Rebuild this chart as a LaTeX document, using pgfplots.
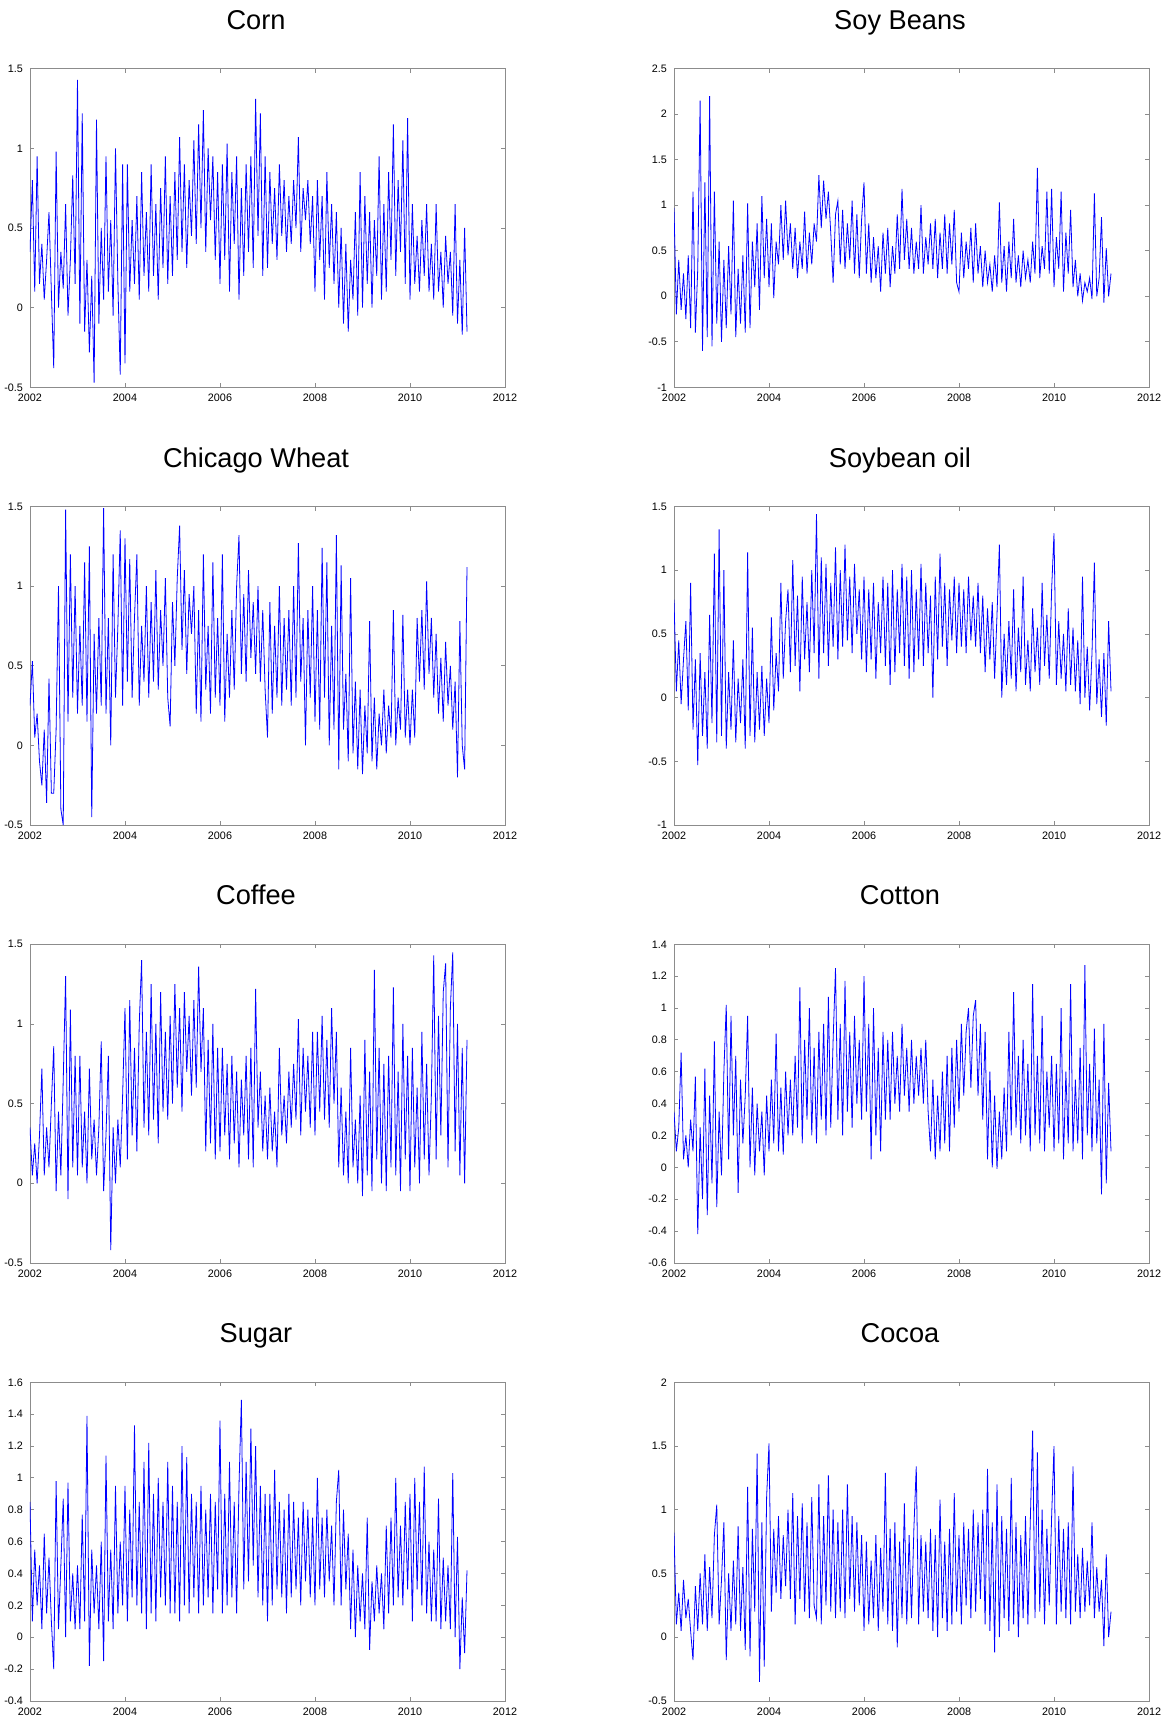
\documentclass[border=0pt]{standalone}
\usepackage{fontspec}
\setmainfont{Liberation Sans}
\usepackage{pgfplots}
\usepackage{pgfplotstable}
\pgfplotsset{compat=1.18}

\definecolor{axgray}{RGB}{140,140,140}

% one row per observation, 20 observations per year from 2002
\pgfplotstableread[row sep=\\]{y\\
0.35\\0.80\\0.10\\0.95\\0.15\\0.40\\0.05\\0.30\\0.60\\0.10\\
-0.38\\0.98\\0.00\\0.35\\0.12\\0.65\\-0.05\\0.30\\0.83\\0.15\\
1.43\\-0.10\\1.22\\-0.15\\0.30\\-0.28\\0.20\\-0.47\\1.18\\-0.10\\
0.50\\0.05\\0.95\\0.10\\0.55\\-0.05\\1.00\\0.15\\-0.42\\0.90\\
-0.35\\0.90\\0.10\\0.55\\0.15\\0.70\\0.05\\0.85\\0.20\\0.60\\
0.10\\0.90\\0.20\\0.65\\0.05\\0.75\\0.25\\0.95\\0.15\\0.70\\
0.20\\0.85\\0.30\\1.07\\0.35\\0.90\\0.25\\0.80\\0.45\\1.05\\
0.40\\1.15\\0.50\\1.24\\0.35\\1.00\\0.55\\0.95\\0.30\\0.85\\
0.15\\0.90\\0.30\\1.03\\0.10\\0.85\\0.40\\0.95\\0.05\\0.75\\
0.20\\0.90\\0.35\\0.95\\0.25\\1.31\\0.45\\1.22\\0.20\\0.95\\
0.25\\0.85\\0.40\\0.75\\0.30\\0.90\\0.45\\0.80\\0.35\\0.70\\
0.40\\0.80\\0.50\\1.07\\0.35\\0.75\\0.55\\0.80\\0.40\\0.70\\
0.10\\0.80\\0.30\\0.70\\0.05\\0.85\\0.25\\0.65\\0.15\\0.60\\
0.00\\0.50\\-0.10\\0.40\\-0.15\\0.30\\0.05\\0.60\\-0.05\\0.85\\
0.00\\0.70\\0.15\\0.60\\0.00\\0.55\\0.20\\0.95\\0.05\\0.65\\
0.10\\0.85\\0.30\\1.15\\0.20\\0.80\\0.35\\1.05\\0.15\\1.19\\
0.05\\0.65\\0.15\\0.45\\0.10\\0.55\\0.20\\0.65\\0.10\\0.40\\
0.05\\0.65\\0.10\\0.35\\0.00\\0.45\\0.15\\0.35\\-0.05\\0.65\\
-0.10\\0.30\\-0.17\\0.50\\-0.15\\
}\corn

\pgfplotstableread[row sep=\\]{y\\
0.97\\-0.20\\0.40\\-0.15\\0.25\\-0.25\\0.45\\-0.35\\1.15\\-0.40\\
0.30\\2.15\\-0.60\\1.25\\-0.45\\2.20\\-0.55\\1.15\\-0.30\\0.60\\
-0.50\\0.40\\-0.35\\0.55\\-0.20\\1.05\\-0.45\\0.30\\-0.30\\0.45\\
-0.40\\1.02\\-0.35\\0.60\\0.10\\0.80\\-0.15\\1.10\\0.20\\0.85\\
0.10\\0.80\\-0.02\\0.60\\0.35\\1.00\\0.40\\1.05\\0.45\\0.80\\
0.30\\0.75\\0.20\\0.60\\0.30\\0.93\\0.25\\0.70\\0.35\\0.80\\
0.60\\1.33\\0.75\\1.27\\0.85\\1.15\\0.70\\0.15\\0.90\\1.05\\
0.35\\0.95\\0.30\\0.80\\0.40\\1.05\\0.25\\0.90\\0.20\\0.85\\
1.25\\0.25\\0.80\\0.15\\0.65\\0.20\\0.55\\0.05\\0.70\\0.25\\
0.75\\0.10\\0.55\\0.25\\0.90\\0.30\\1.18\\0.40\\0.85\\0.30\\
0.75\\0.25\\0.60\\0.30\\1.00\\0.25\\0.65\\0.35\\0.80\\0.30\\
0.85\\0.20\\0.70\\0.30\\0.90\\0.25\\0.80\\0.35\\0.95\\0.15\\
0.05\\0.70\\0.20\\0.60\\0.30\\0.75\\0.15\\0.80\\0.25\\0.55\\
0.10\\0.50\\0.15\\0.35\\0.05\\0.45\\0.10\\1.03\\0.15\\0.55\\
0.05\\0.60\\0.20\\0.85\\0.15\\0.45\\0.10\\0.50\\0.20\\0.40\\
0.15\\0.60\\0.25\\1.41\\0.20\\0.55\\0.30\\1.15\\0.25\\1.18\\
0.10\\0.65\\0.30\\1.15\\0.05\\0.70\\0.25\\0.95\\0.10\\0.40\\
0.00\\0.25\\-0.05\\0.15\\0.05\\0.20\\-0.03\\1.13\\0.00\\0.20\\
0.87\\-0.07\\0.53\\0.00\\0.25\\
}\soybeans

\pgfplotstableread[row sep=\\]{y\\
0.25\\0.53\\0.05\\0.20\\-0.10\\-0.25\\0.10\\-0.36\\0.42\\-0.30\\
-0.30\\0.10\\1.00\\-0.40\\-0.50\\1.48\\0.15\\1.20\\0.30\\1.00\\
0.20\\0.75\\0.25\\1.15\\0.15\\1.25\\-0.45\\0.70\\0.20\\0.80\\
0.25\\1.49\\0.20\\0.80\\0.00\\1.20\\0.30\\0.75\\1.35\\0.25\\
1.30\\0.40\\1.17\\0.30\\0.80\\1.20\\0.25\\0.75\\0.40\\1.00\\
0.30\\0.90\\0.40\\1.10\\0.35\\0.85\\0.50\\1.05\\0.30\\0.12\\
0.90\\0.50\\1.05\\1.38\\0.60\\1.10\\0.45\\0.95\\0.70\\1.00\\
0.20\\0.85\\0.15\\1.20\\0.35\\0.75\\0.20\\1.15\\0.30\\0.80\\
0.25\\1.20\\0.15\\0.70\\0.30\\0.85\\0.35\\1.00\\1.32\\0.45\\
0.95\\0.40\\1.10\\0.55\\0.90\\0.45\\1.00\\0.40\\0.85\\0.35\\
0.05\\0.90\\0.20\\0.75\\0.30\\1.00\\0.25\\0.80\\0.35\\0.85\\
0.25\\1.00\\0.30\\1.27\\0.40\\0.80\\0.00\\0.85\\0.30\\1.00\\
0.15\\0.85\\0.10\\1.24\\0.30\\1.15\\0.00\\0.75\\0.10\\1.32\\
-0.15\\1.13\\0.10\\0.45\\-0.10\\1.05\\-0.05\\0.40\\-0.15\\0.35\\
-0.18\\0.25\\-0.05\\0.78\\-0.10\\0.30\\-0.15\\0.20\\0.00\\0.35\\
-0.05\\0.25\\0.05\\0.85\\0.00\\0.30\\0.10\\0.82\\0.05\\0.35\\
0.00\\0.35\\0.05\\0.80\\0.40\\0.85\\0.35\\1.03\\0.45\\0.80\\
0.30\\0.70\\0.20\\0.55\\0.15\\0.65\\0.25\\0.50\\0.10\\0.40\\
-0.20\\0.78\\0.00\\-0.15\\1.12\\
}\wheat

\pgfplotstableread[row sep=\\]{y\\
0.77\\0.05\\0.45\\-0.05\\0.30\\0.60\\-0.10\\0.90\\-0.25\\0.30\\
-0.53\\0.35\\-0.30\\0.20\\-0.40\\0.65\\-0.20\\1.13\\-0.35\\1.32\\
-0.30\\1.00\\-0.40\\0.20\\-0.25\\0.45\\-0.35\\0.15\\-0.20\\0.30\\
-0.40\\1.14\\-0.30\\0.55\\-0.35\\0.20\\-0.25\\0.25\\-0.30\\0.15\\
-0.20\\0.63\\-0.10\\0.35\\0.05\\0.90\\0.15\\0.60\\0.85\\0.20\\
1.08\\0.25\\0.80\\0.05\\0.95\\0.30\\0.75\\0.20\\1.00\\0.35\\
1.44\\0.15\\1.10\\0.35\\1.05\\0.25\\0.90\\0.40\\1.18\\0.30\\
1.00\\0.40\\1.20\\0.45\\0.95\\0.35\\1.05\\0.50\\0.85\\0.30\\
0.95\\0.20\\0.85\\0.30\\0.90\\0.15\\0.75\\0.35\\0.95\\0.25\\
0.90\\0.10\\1.00\\0.20\\0.85\\0.35\\1.05\\0.25\\0.95\\0.15\\
1.00\\0.20\\0.85\\0.30\\1.05\\0.25\\0.90\\0.35\\0.80\\0.00\\
0.95\\0.30\\1.13\\0.40\\0.90\\0.25\\0.85\\0.45\\0.95\\0.35\\
0.90\\0.40\\0.85\\0.35\\0.95\\0.45\\0.80\\0.40\\0.90\\0.35\\
0.80\\0.20\\0.70\\0.30\\0.75\\0.15\\0.65\\1.20\\0.00\\0.50\\
0.10\\0.60\\0.15\\0.85\\0.05\\0.55\\0.20\\0.95\\0.10\\0.45\\
0.05\\0.70\\0.20\\0.55\\0.10\\0.90\\0.25\\0.65\\0.15\\0.85\\
1.29\\0.10\\0.60\\0.15\\0.50\\0.05\\0.70\\0.10\\0.55\\0.05\\
0.45\\-0.05\\0.95\\0.00\\0.40\\-0.10\\0.35\\1.06\\-0.05\\0.30\\
-0.15\\0.35\\-0.22\\0.60\\0.05\\
}\soyoil

\pgfplotstableread[row sep=\\]{y\\
0.35\\0.05\\0.25\\0.00\\0.30\\0.72\\0.05\\0.35\\0.10\\0.50\\
0.86\\-0.05\\0.45\\0.05\\0.65\\1.30\\-0.10\\1.09\\0.10\\0.80\\
0.05\\0.80\\0.10\\0.45\\0.00\\0.72\\0.15\\0.40\\0.05\\0.35\\
0.89\\-0.05\\0.30\\0.80\\-0.42\\0.35\\0.00\\0.40\\0.10\\0.55\\
1.10\\0.15\\1.15\\0.30\\0.85\\0.20\\1.00\\1.40\\0.35\\0.95\\
0.30\\1.25\\0.40\\1.00\\0.25\\1.20\\0.45\\0.95\\0.40\\1.05\\
0.50\\1.25\\0.60\\1.10\\0.45\\1.20\\0.70\\1.05\\0.55\\1.15\\
0.60\\1.36\\0.70\\1.10\\0.20\\0.90\\0.25\\1.00\\0.15\\0.85\\
0.20\\0.85\\0.30\\0.75\\0.15\\0.80\\0.25\\0.70\\0.10\\0.65\\
0.30\\0.80\\0.15\\0.85\\0.10\\1.22\\0.35\\0.70\\0.20\\0.55\\
0.15\\0.60\\0.20\\0.45\\0.10\\0.85\\0.30\\0.55\\0.25\\0.70\\
0.35\\0.75\\0.40\\1.03\\0.30\\0.85\\0.45\\0.80\\0.35\\0.95\\
0.30\\0.95\\0.45\\1.05\\0.40\\0.90\\0.35\\1.10\\0.50\\0.95\\
0.10\\0.60\\0.05\\0.45\\0.00\\0.85\\0.10\\0.40\\0.00\\0.55\\
-0.08\\0.90\\0.05\\0.70\\-0.05\\1.34\\0.15\\0.85\\0.00\\0.75\\
-0.05\\0.80\\0.10\\1.23\\0.05\\0.70\\-0.05\\1.00\\0.15\\0.80\\
-0.05\\0.85\\0.10\\0.60\\0.00\\0.95\\0.15\\0.75\\0.05\\0.55\\
1.43\\0.15\\1.05\\0.30\\1.20\\1.38\\0.10\\1.10\\1.45\\0.20\\
1.00\\0.05\\0.85\\0.00\\0.90\\
}\coffee

\pgfplotstableread[row sep=\\]{y\\
0.35\\0.10\\0.25\\0.72\\0.05\\0.20\\0.00\\0.30\\0.10\\0.57\\
-0.42\\0.25\\-0.20\\0.62\\-0.30\\0.45\\-0.10\\0.79\\-0.25\\0.35\\
-0.05\\0.60\\1.02\\0.05\\0.95\\0.20\\0.70\\-0.16\\0.55\\0.15\\
0.45\\0.95\\0.00\\0.50\\-0.05\\0.40\\0.10\\0.35\\-0.05\\0.45\\
0.10\\0.55\\0.15\\0.84\\0.10\\0.50\\0.08\\0.60\\0.20\\0.55\\
0.20\\0.70\\0.25\\1.13\\0.15\\0.80\\0.30\\1.00\\0.20\\0.75\\
0.15\\0.85\\0.30\\0.90\\0.20\\1.07\\0.25\\0.80\\1.25\\0.30\\
0.90\\0.20\\1.17\\0.35\\0.85\\0.25\\0.95\\0.40\\0.80\\0.30\\
1.20\\0.35\\0.90\\0.05\\1.00\\0.20\\0.75\\0.10\\0.85\\0.30\\
0.80\\0.30\\0.85\\0.40\\0.70\\0.35\\0.90\\0.45\\0.75\\0.35\\
0.80\\0.40\\0.70\\0.45\\0.75\\0.40\\0.80\\0.35\\0.10\\0.55\\
0.05\\0.45\\0.10\\0.60\\0.15\\0.70\\0.10\\0.75\\0.25\\0.80\\
0.35\\0.90\\0.45\\0.85\\1.00\\0.50\\0.95\\1.05\\0.45\\0.90\\
0.30\\0.85\\0.05\\0.60\\0.00\\0.45\\-0.01\\0.35\\0.05\\0.50\\
0.10\\0.85\\0.20\\1.10\\0.25\\0.70\\0.15\\0.80\\0.20\\0.65\\
0.10\\1.15\\0.20\\0.70\\0.15\\0.95\\0.10\\0.60\\0.25\\0.70\\
0.10\\0.65\\0.15\\1.00\\0.05\\0.60\\0.15\\1.15\\0.10\\0.55\\
0.15\\0.75\\0.05\\1.27\\0.20\\0.65\\0.10\\0.87\\0.15\\0.55\\
-0.17\\0.90\\-0.10\\0.53\\0.10\\
}\cotton

\pgfplotstableread[row sep=\\]{y\\
0.85\\0.10\\0.55\\0.20\\0.45\\0.05\\0.65\\0.15\\0.50\\0.10\\
-0.20\\0.98\\0.05\\0.45\\0.87\\0.00\\0.97\\0.10\\0.40\\0.05\\
0.45\\0.05\\0.77\\0.10\\1.39\\-0.18\\0.55\\0.15\\0.45\\0.05\\
0.60\\-0.15\\1.14\\0.10\\0.55\\0.05\\0.95\\0.15\\0.60\\0.20\\
0.95\\0.10\\0.80\\0.25\\1.33\\0.20\\0.85\\0.15\\1.10\\0.05\\
1.22\\0.15\\0.90\\0.10\\1.00\\0.25\\0.85\\0.20\\1.10\\0.15\\
0.95\\0.15\\0.85\\0.10\\1.20\\0.20\\1.13\\0.15\\0.90\\0.25\\
0.85\\0.15\\0.95\\0.20\\0.80\\0.25\\0.90\\0.15\\0.85\\0.30\\
1.36\\0.15\\0.90\\0.20\\1.10\\0.25\\0.85\\0.15\\0.95\\1.49\\
0.30\\1.10\\0.35\\1.31\\0.45\\1.20\\0.25\\0.95\\0.20\\0.90\\
0.10\\0.90\\0.20\\1.05\\0.30\\0.85\\0.25\\0.80\\0.15\\0.90\\
0.25\\0.85\\0.30\\0.75\\0.20\\0.85\\0.35\\0.80\\0.25\\0.75\\
0.20\\1.00\\0.30\\0.75\\0.25\\0.80\\0.35\\0.70\\0.20\\0.85\\
1.05\\0.20\\0.80\\0.30\\0.65\\0.05\\0.55\\0.00\\0.45\\0.10\\
0.40\\0.05\\0.75\\-0.08\\0.35\\0.10\\0.45\\0.15\\0.40\\0.05\\
0.70\\0.15\\0.75\\0.20\\1.00\\0.25\\0.70\\0.20\\0.85\\0.30\\
0.90\\0.10\\1.00\\0.30\\0.85\\0.20\\1.07\\0.15\\0.60\\0.10\\
0.55\\0.10\\0.87\\0.05\\0.50\\0.10\\0.45\\0.05\\1.03\\0.00\\
0.63\\-0.20\\0.25\\-0.10\\0.42\\
}\sugar

\pgfplotstableread[row sep=\\]{y\\
0.82\\0.10\\0.35\\0.05\\0.45\\0.15\\0.30\\0.05\\-0.18\\0.40\\
0.05\\0.50\\0.10\\0.65\\0.05\\0.55\\0.15\\0.80\\1.04\\0.10\\
0.45\\0.90\\-0.18\\0.50\\0.05\\0.60\\0.10\\0.87\\0.05\\0.55\\
-0.10\\1.18\\-0.15\\0.85\\0.20\\1.44\\-0.35\\0.90\\-0.23\\1.10\\
1.52\\0.20\\0.85\\0.35\\0.95\\0.30\\0.80\\0.40\\1.00\\0.30\\
1.13\\0.10\\0.95\\0.30\\1.05\\0.20\\0.90\\0.15\\1.10\\0.25\\
0.15\\1.20\\0.10\\0.95\\0.25\\1.27\\0.20\\1.00\\0.15\\0.90\\
0.20\\1.00\\0.15\\1.20\\0.30\\0.95\\0.20\\0.90\\0.25\\0.80\\
0.05\\0.75\\0.10\\0.60\\0.15\\0.80\\0.05\\0.70\\0.20\\1.29\\
0.10\\0.85\\0.05\\0.90\\-0.08\\0.75\\0.15\\1.05\\0.10\\0.80\\
0.15\\0.85\\1.34\\0.10\\0.80\\0.20\\0.75\\0.15\\0.85\\0.05\\
0.80\\0.00\\1.08\\0.15\\0.75\\0.05\\0.85\\0.10\\1.13\\0.20\\
0.80\\0.10\\0.90\\0.25\\0.85\\0.15\\1.00\\0.20\\0.90\\0.30\\
1.00\\0.10\\1.32\\0.05\\0.90\\-0.12\\1.20\\0.00\\0.95\\0.15\\
0.85\\0.05\\1.25\\0.10\\0.90\\0.00\\0.80\\0.15\\0.95\\0.10\\
0.90\\1.62\\0.15\\1.45\\0.20\\1.00\\0.10\\0.85\\0.25\\0.95\\
1.50\\0.10\\0.95\\0.20\\0.85\\0.15\\0.90\\0.10\\1.34\\0.20\\
0.65\\0.15\\0.70\\0.20\\0.60\\0.25\\0.90\\0.15\\0.55\\0.20\\
0.45\\-0.07\\0.65\\0.00\\0.20\\
}\cocoa

\pgfplotsset{
  panel/.style={
    scale only axis,
    width=237.5pt, height=159.3pt,
    anchor=north west,
    xmin=2002, xmax=2012,
    xtick={2002,2004,2006,2008,2010,2012},
    scaled ticks=false,
    axis line style={draw=axgray},
    tick style={draw=axgray, thin},
    major tick length=2pt,
    tick label style={font=\fontsize{5.4}{6}\selectfont},
    /pgf/number format/assume math mode=true,
    /pgf/number format/1000 sep={},
    title style={at={(0.4758,1)}, anchor=base, yshift=13.7pt,
      font=\fontsize{13.6}{16}\selectfont},
  },
  series/.style={blue, line width=0.4pt},
}

\begin{document}
\begin{tikzpicture}
\useasboundingbox (0,0) rectangle (584.5pt,-858.5pt);

\begin{axis}[panel, at={(15pt,-34.35pt)}, title={Corn},
  ymin=-0.5, ymax=1.5, ytick={-0.5,0,0.5,1,1.5}]
\addplot[series] table[x expr=2002+\coordindex/20, y=y] {\corn};
\end{axis}

\begin{axis}[panel, at={(337pt,-34.35pt)}, title={Soy Beans},
  ymin=-1, ymax=2.5, ytick={-1,-0.5,0,0.5,1,1.5,2,2.5}]
\addplot[series] table[x expr=2002+\coordindex/20, y=y] {\soybeans};
\end{axis}

\begin{axis}[panel, at={(15pt,-253.25pt)}, title={Chicago Wheat},
  ymin=-0.5, ymax=1.5, ytick={-0.5,0,0.5,1,1.5}]
\addplot[series] table[x expr=2002+\coordindex/20, y=y] {\wheat};
\end{axis}

\begin{axis}[panel, at={(337pt,-253.25pt)}, title={Soybean oil},
  ymin=-1, ymax=1.5, ytick={-1,-0.5,0,0.5,1,1.5}]
\addplot[series] table[x expr=2002+\coordindex/20, y=y] {\soyoil};
\end{axis}

\begin{axis}[panel, at={(15pt,-472.15pt)}, title={Coffee},
  ymin=-0.5, ymax=1.5, ytick={-0.5,0,0.5,1,1.5}]
\addplot[series] table[x expr=2002+\coordindex/20, y=y] {\coffee};
\end{axis}

\begin{axis}[panel, at={(337pt,-472.15pt)}, title={Cotton},
  ymin=-0.6, ymax=1.4, ytick={-0.6,-0.4,-0.2,0,0.2,0.4,0.6,0.8,1,1.2,1.4}]
\addplot[series] table[x expr=2002+\coordindex/20, y=y] {\cotton};
\end{axis}

\begin{axis}[panel, at={(15pt,-691.15pt)}, title={Sugar},
  ymin=-0.4, ymax=1.6, ytick={-0.4,-0.2,0,0.2,0.4,0.6,0.8,1,1.2,1.4,1.6}]
\addplot[series] table[x expr=2002+\coordindex/20, y=y] {\sugar};
\end{axis}

\begin{axis}[panel, at={(337pt,-691.15pt)}, title={Cocoa},
  ymin=-0.5, ymax=2, ytick={-0.5,0,0.5,1,1.5,2}]
\addplot[series] table[x expr=2002+\coordindex/20, y=y] {\cocoa};
\end{axis}

\end{tikzpicture}
\end{document}
